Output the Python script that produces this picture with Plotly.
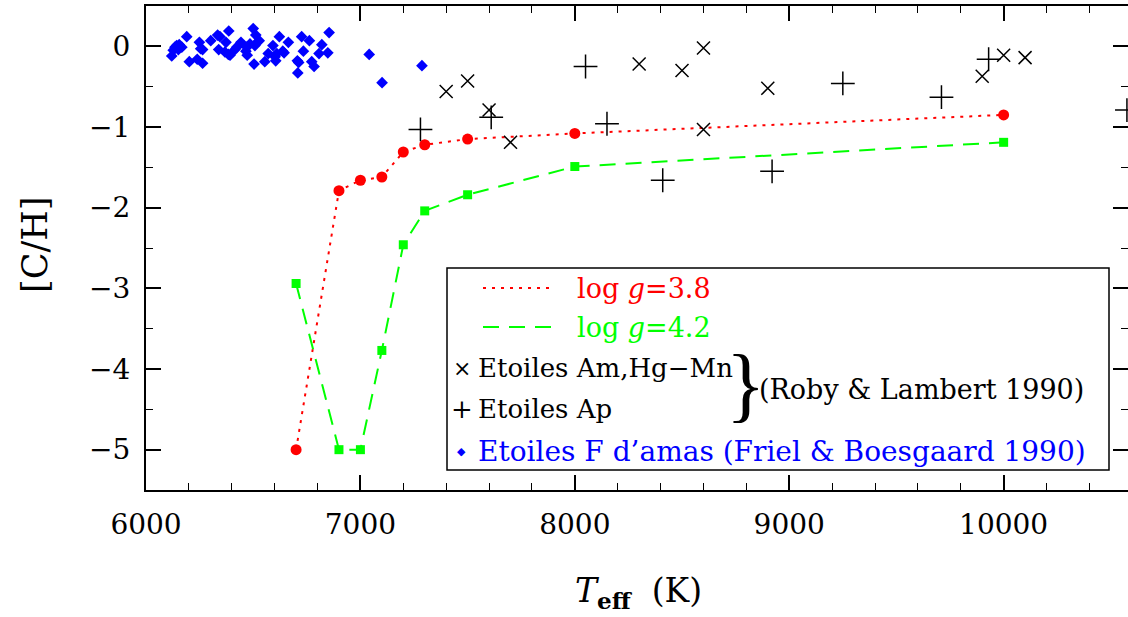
import plotly.graph_objects as go

# log g = 3.8 model (red)
teff_38 = [6700, 6900, 7000, 7100, 7200, 7300, 7500, 8000, 10000]
ch_38 = [-5.0, -1.79, -1.66, -1.62, -1.31, -1.22, -1.15, -1.08, -0.85]

# log g = 4.2 model (green)
teff_42 = [6700, 6900, 7000, 7100, 7200, 7300, 7500, 8000, 10000]
ch_42 = [-2.94, -5.0, -5.0, -3.77, -2.46, -2.04, -1.84, -1.49, -1.19]

# Am, Hg-Mn stars (Roby & Lambert 1990)
teff_am = [7400, 7500, 7600, 7700, 8300, 8500, 8600, 8600, 8900, 9900, 10000, 10100]
ch_am = [-0.56, -0.43, -0.79, -1.19, -0.22, -0.30, -0.02, -1.03, -0.52, -0.37, -0.11, -0.14]

# Ap stars (Roby & Lambert 1990)
teff_ap = [7280, 7610, 8050, 8150, 8410, 8920, 9250, 9710, 9930, 10575]
ch_ap = [-1.03, -0.88, -0.25, -0.96, -1.66, -1.55, -0.46, -0.63, -0.16, -0.79]

# F stars in clusters (Friel & Boesgaard 1990)
teff_f = [6190, 6120, 6127, 6135, 6143, 6155, 6167, 6151, 6202, 6249, 6255, 6264, 6239,
          6264, 6302, 6334, 6345, 6339, 6373, 6386, 6368, 6384, 6392, 6415, 6423, 6443,
          6470, 6466, 6472, 6485, 6500, 6512, 6508, 6519, 6528, 6504, 6554, 6570, 6592,
          6602, 6610, 6605, 6622, 6638, 6644, 6664, 6706, 6712, 6708, 6726, 6734, 6762,
          6773, 6784, 6807, 6820, 6848, 6854, 7041, 7101, 7287]
ch_f = [0.12, -0.12, -0.05, -0.01, 0.01, 0.02, -0.01, -0.04, -0.19, 0.05, -0.03, -0.04, -0.16,
        -0.21, 0.07, 0.14, 0.12, -0.04, 0.05, 0.19, -0.07, -0.10, -0.11, -0.04, -0.01, 0.05,
        -0.01, -0.06, -0.11, 0.03, 0.22, 0.14, 0.01, 0.05, 0.07, -0.22, -0.19, -0.09, 0.01,
        -0.13, -0.09, -0.18, 0.12, -0.06, -0.08, 0.05, -0.18, -0.20, -0.33, 0.12, -0.06, 0.07,
        -0.19, -0.25, -0.09, 0.02, -0.08, 0.17, -0.10, -0.45, -0.24]

x_ticks = [6000, 7000, 8000, 9000, 10000]
y_ticks = [0, -1, -2, -3, -4, -5]

RED = "#ff0000"
GREEN = "#00ff00"
BLUE = "#0000ff"
FONT = "DejaVu Serif"

fig = go.Figure()
fig.add_trace(go.Scatter(x=teff_f, y=ch_f, mode="markers",
                         marker=dict(symbol="diamond", size=9, color=BLUE)))
fig.add_trace(go.Scatter(x=teff_38, y=ch_38, mode="lines+markers",
                         line=dict(color=RED, width=2, dash="3px,6px"),
                         marker=dict(symbol="circle", size=11, color=RED)))
fig.add_trace(go.Scatter(x=teff_42, y=ch_42, mode="lines+markers",
                         line=dict(color=GREEN, width=2, dash="16px,10px"),
                         marker=dict(symbol="square", size=9, color=GREEN)))
fig.add_trace(go.Scatter(x=teff_am, y=ch_am, mode="markers",
                         marker=dict(symbol="x-thin", size=13, line=dict(color="black", width=1.5))))
fig.add_trace(go.Scatter(x=teff_ap, y=ch_ap, mode="markers",
                         marker=dict(symbol="cross-thin", size=17, line=dict(color="black", width=1.5))))

axis_common = dict(showline=True, linecolor="black", linewidth=2, mirror="allticks",
                   ticks="inside", tickcolor="black", tickwidth=1.5, ticklen=15,
                   showgrid=False, zeroline=False, automargin=False,
                   tickfont=dict(family=FONT, size=28, color="black"))

fig.update_xaxes(range=[6000, 10580], tickvals=x_ticks, ticktext=[str(v) for v in x_ticks],
                 minor=dict(dtick=200, tick0=6000, ticks="inside", ticklen=7, tickcolor="black",
                            tickwidth=1.2),
                 ticklabelstandoff=8, **axis_common)
fig.update_yaxes(range=[-5.5, 0.5], tickvals=y_ticks,
                 ticktext=["0" if v == 0 else "\u2212" + str(-v) for v in y_ticks],
                 minor=dict(dtick=0.5, tick0=0, ticks="inside", ticklen=7, tickcolor="black",
                            tickwidth=1.2),
                 ticklabelstandoff=8, **axis_common)

def px(x):
    return (x - 146) / 982.0

def py(y):
    return (490 - y) / 484.0

shapes = [
    dict(type="rect", xref="paper", yref="paper", x0=px(447), x1=px(1109), y0=py(470), y1=py(268),
         line=dict(color="black", width=1.5), fillcolor="white", layer="above"),
    dict(type="line", xref="paper", yref="paper", x0=px(483), x1=px(553), y0=py(288), y1=py(288),
         line=dict(color=RED, width=2, dash="3px,6px"), layer="above"),
    dict(type="line", xref="paper", yref="paper", x0=px(483), x1=px(553), y0=py(327), y1=py(327),
         line=dict(color=GREEN, width=2, dash="16px,10px"), layer="above"),
]

def ann(text, x, y, color="black", size=27, xanchor="left", family=FONT, **kw):
    return dict(text=text, x=px(x), y=py(y), xref="paper", yref="paper", showarrow=False,
                xanchor=xanchor, yanchor="middle", font=dict(family=family, size=size, color=color), **kw)

annotations = [
    ann("log <i>g</i>=3.8", 575, 288, RED),
    ann("log <i>g</i>=4.2", 575, 327, GREEN),
    ann("\u00d7", 462, 368, size=22, xanchor="center"),
    ann("Etoiles Am,Hg\u2212Mn", 476, 368, size=26),
    ann("+", 462, 409, size=26, xanchor="center"),
    ann("Etoiles Ap", 476, 409, size=26),
    ann("}", 745, 384, size=82, xanchor="center", family="Liberation Serif"),
    ann("(Roby &amp; Lambert 1990)", 757, 389),
    ann("\u25c6", 461, 451, BLUE, size=11, xanchor="center"),
    ann("Etoiles F d\u2019amas (Friel &amp; Boesgaard 1990)", 476, 451, BLUE, size=28),
    dict(text="<i>T</i><sub><b>eff</b></sub>  (K)", x=px(638), y=py(592), xref="paper", yref="paper",
         showarrow=False, xanchor="center", yanchor="middle",
         font=dict(family=FONT, size=33, color="black")),
    dict(text="[C/H]", x=px(35), y=py(245), xref="paper", yref="paper", textangle=-90,
         showarrow=False, xanchor="center", yanchor="middle",
         font=dict(family=FONT, size=35, color="black")),
]

fig.update_layout(width=1128, height=617, showlegend=False,
                  margin=dict(l=146, r=0, t=6, b=127),
                  plot_bgcolor="white", paper_bgcolor="white",
                  shapes=shapes, annotations=annotations)

fig.write_html("out.html", config={"displayModeBar": False},
               post_script="document.body.style.margin='0';")
